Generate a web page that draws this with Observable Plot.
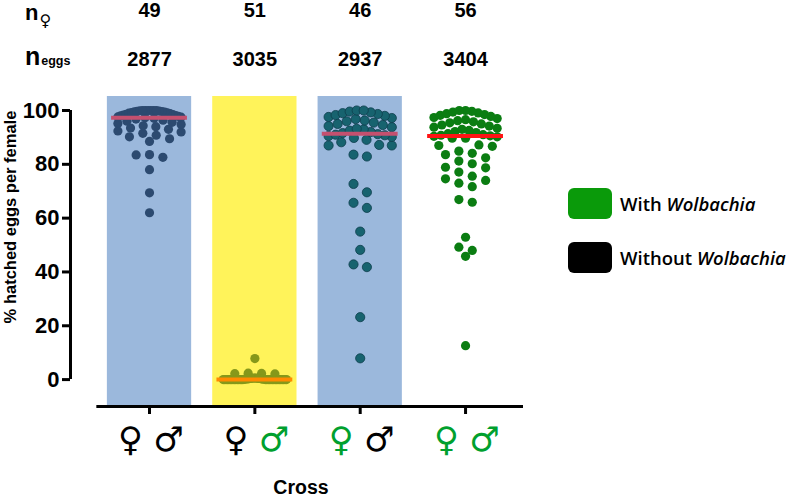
<!DOCTYPE html>
<html>
<head>
<meta charset="utf-8">
<script src="https://cdn.jsdelivr.net/npm/d3@7"></script>
<script src="https://cdn.jsdelivr.net/npm/@observablehq/plot@0.6"></script>
<style>
  body { margin: 0; background: #fff; }
  #wrap { position: relative; width: 789px; height: 501px; overflow: hidden; font-family: "Liberation Sans", Arial, sans-serif; }
  #wrap svg { position: absolute; left: 0; top: 0; }
  .abs { position: absolute; white-space: nowrap; color: #000; }
  .ylab { left: 10px; top: 217px; transform: translate(-50%, -50%) rotate(-90deg); font-weight: bold; font-size: 16.5px; }
  .nlab { font-weight: bold; font-size: 25px; line-height: 1; }
  .sub1 { font-family: "DejaVu Sans", sans-serif; font-weight: normal; font-size: 16px; position: relative; top: 6px; margin-left: 1px; }
  .sub2 { font-size: 12.5px; margin-left: 1px; }
  .lbox { position: absolute; width: 44px; height: 31px; border-radius: 6px; }
  .ltxt { position: absolute; font-family: "Open Sans", sans-serif; font-weight: 600; font-size: 18.5px; line-height: 1; transform: translateY(-50%); white-space: nowrap; }
</style>
</head>
<body>
<div id="wrap"></div>
<script>
// ---- data ----
const groups = [1, 2, 3, 4];
const nFemales = [49, 51, 46, 56];
const nEggs = [2877, 3035, 2937, 3404];
const femaleInfected = [false, false, true, true];
const maleInfected = [false, true, false, true];
const yTicks = [0, 20, 40, 60, 80, 100];

const hatch1 = [62, 69.4, 78, 83.6, 83.5, 82.6, 88.5, 89.5,
  90.2, 90.8, 91.5, 92, 92.4, 93, 93.5, 94, 94.3, 94.8, 95.2, 95.6, 96, 96.4, 96.8, 97.1,
  97.3,
  97.5, 97.6, 97.8, 98, 98.1, 98.3, 98.5, 98.6, 98.8, 99, 99.1, 99.2, 99.4, 99.5, 99.6, 99.7, 99.8, 99.9,
  100, 100, 100, 100, 100, 100];
const hatch2 = [7.8, 2.4, 2.3, 2.2, 2.1,
  0.6, 0.6, 0.5, 0.5, 0.5, 0.4, 0.4, 0.4, 0.3, 0.3, 0.3, 0.2, 0.2, 0.2, 0.1,
  0, 0, 0, 0, 0, 0, 0, 0, 0, 0, 0, 0, 0, 0, 0, 0, 0, 0, 0, 0, 0, 0, 0, 0, 0, 0, 0, 0, 0, 0, 0];
const hatch3 = [7.9, 23.2, 41.8, 42.8, 48.2, 55, 65.7, 63.8, 69.6, 72.7, 83.6, 82.9, 87, 89.1, 88.2, 87, 87.2,
  89.8, 90.2, 90.5, 90.8, 91, 91.2,
  91.6, 92, 92.5, 93, 93.2, 93.8, 94.2, 94.6, 95, 95.5, 96, 96.3, 96.8, 97.2, 97.6, 98, 98.3, 98.7, 99, 99.3, 99.6, 100, 100];
const hatch4 = [12.6, 45.8, 49.2, 48, 52.9, 66.9, 65.9, 71.7, 73, 74, 74.6, 75.6, 77.1, 78.7, 78.9, 81.2, 80.2,
  82.4, 84.1, 83.6, 84.9, 86.7, 87.2, 87, 89.7, 89.7,
  90.2, 90.4, 90.6, 90.8,
  91, 91.4, 91.8, 92.2, 92.6, 93, 93.4, 93.8, 94.2, 94.6, 95, 95.4, 95.8, 96.2, 96.6, 97, 97.4, 97.8,
  98.2, 98.5, 98.8, 99.1, 99.4, 99.7, 100, 100];
const hatchByGroup = [hatch1, hatch2, hatch3, hatch4];

// ---- styles ----
const dotColors = ["#2c4a70", "#86981a", "#17636f", "#0b7d12"];
const dotStrokes = ["none", "none", "#0e3d4c", "none"];
const medianColors = ["#c4506f", "#ff8a00", "#c4506f", "#ff1414"];
const bgColors = ["#9bb8dc", "#fff35a", "#9bb8dc", null];
const rowBins = [2.6, 1.5, 3.2, 3.2];
const green = "#00a02e";
const xMin = 0.25, xMax = 4.55, yMin = -10, yMax = 105.2;

// GraphPad-like scatter: rows of nearby values spread around the group centre
function swarm(values, spacing, maxHalf, binSize) {
  const pts = values.map((v, i) => ({v, i})).sort((a, b) => b.v - a.v);
  const rows = [];
  let row = null;
  for (const p of pts) {
    if (!row || row[0].v - p.v > binSize) { row = []; rows.push(row); }
    row.push(p);
  }
  const off = new Array(values.length).fill(0);
  for (const r of rows) {
    const k = r.length;
    const s = k > 1 ? Math.min(spacing, 2 * maxHalf / (k - 1)) : 0;
    const pos = d3.range(k).map(j => (j - (k - 1) / 2) * s)
      .sort((a, b) => Math.abs(a) - Math.abs(b) || a - b);
    r.forEach((p, j) => off[p.i] = pos[j]);
  }
  return off;
}

const points = [];
const medians = [];
hatchByGroup.forEach((vals, gi) => {
  const offs = swarm(vals, 0.127, 0.3, rowBins[gi]);
  vals.forEach((v, i) => points.push({g: groups[gi], v, off: offs[i], fill: dotColors[gi], stroke: dotStrokes[gi]}));
  medians.push({g: groups[gi], m: d3.median(vals), c: medianColors[gi]});
});
const bgs = groups.map((g, i) => ({g, c: bgColors[i]})).filter(d => d.c);

const plot = Plot.plot({
  width: 789, height: 501,
  marginLeft: 70, marginRight: 266, marginTop: 96, marginBottom: 95,
  x: {type: "linear", domain: [xMin, xMax]},
  y: {domain: [yMin, yMax]},
  color: {type: "identity"},
  style: {fontFamily: "'Liberation Sans', Arial, sans-serif", background: "transparent", color: "#000"},
  marks: [
    Plot.rect(bgs, {x1: d => d.g - 0.4, x2: d => d.g + 0.4, fill: "c"}),
    Plot.dot(points, {x: d => d.g + d.off, y: "v", r: 4.6, fill: "fill", stroke: "stroke", strokeWidth: 0.8}),
    Plot.ruleY(medians, {y: "m", x1: d => d.g - 0.36, x2: d => d.g + 0.36, stroke: "c", strokeWidth: 4}),
    Plot.axisY({ticks: yTicks, tickSize: 8, tickPadding: 3, fontSize: 22, fontWeight: "bold", strokeWidth: 3, label: null, tickFormat: d => d}),
    Plot.ruleX([xMin], {y1: 0, y2: 100, strokeWidth: 3}),
    Plot.ruleY([yMin], {x1: 0.5, x2: xMax, strokeWidth: 3}),
    Plot.axisX({ticks: groups, tickSize: 8, strokeWidth: 3, tickFormat: () => "", label: null}),
    Plot.text(groups, {x: d => d, text: (d, i) => String(nFemales[i]), frameAnchor: "top", dy: -94, fontSize: 20, fontWeight: "bold"}),
    Plot.text(groups, {x: d => d, text: (d, i) => String(nEggs[i]), frameAnchor: "top", dy: -45, fontSize: 20, fontWeight: "bold"}),
    Plot.text(groups, {x: d => d, text: () => "\u2640", fill: (d, i) => femaleInfected[i] ? green : "#000", frameAnchor: "bottom", dy: 44, dx: -19, fontSize: 34, fontWeight: "bold", fontFamily: "DejaVu Sans"}),
    Plot.text(groups, {x: d => d, text: () => "\u2642", fill: (d, i) => maleInfected[i] ? green : "#000", frameAnchor: "bottom", dy: 44, dx: 19, fontSize: 34, fontWeight: "bold", fontFamily: "DejaVu Sans"}),
    Plot.text(["Cross"], {frameAnchor: "bottom", dy: 87, dx: 4, fontSize: 19.5, fontWeight: "bold"})
  ]
});

const wrap = document.getElementById("wrap");
wrap.appendChild(plot);
wrap.insertAdjacentHTML("beforeend", `
  <div class="abs ylab">% hatched eggs per female</div>
  <div class="abs nlab" style="left:25px; top:1.5px; font-size:22px;">n<span class="sub1">\u2640</span></div>
  <div class="abs nlab" style="left:25px; top:44px;">n<span class="sub2">eggs</span></div>
  <div class="lbox" style="left:568px; top:188px; background:#0a9a0a;"></div>
  <div class="ltxt" style="left:620px; top:204px;">With <i>Wolbachia</i></div>
  <div class="lbox" style="left:568px; top:242px; background:#000;"></div>
  <div class="ltxt" style="left:620px; top:258px;">Without <i>Wolbachia</i></div>
`);
</script>
</body>
</html>
